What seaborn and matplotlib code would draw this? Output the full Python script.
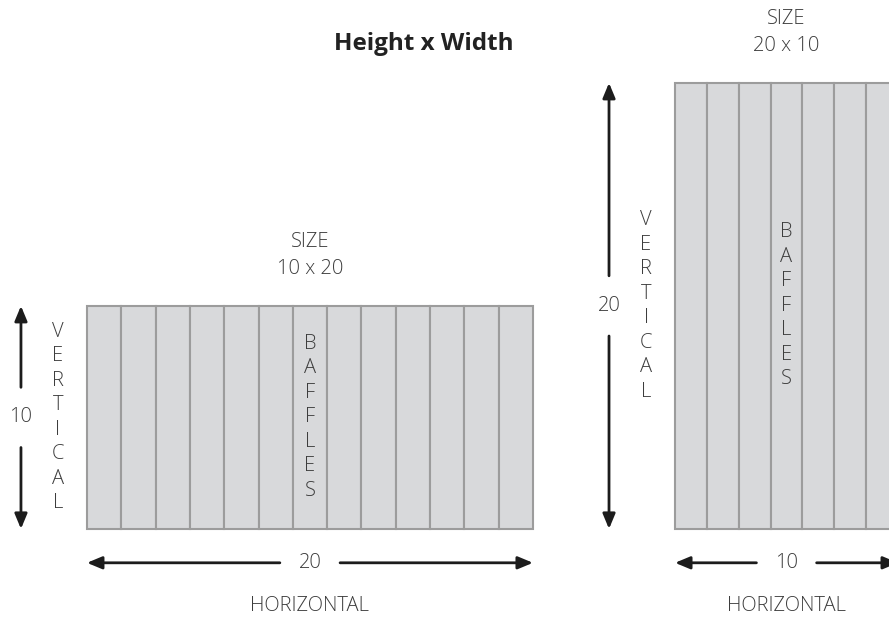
import numpy as np
import matplotlib.pyplot as plt
import seaborn as sns

sns.set_theme(style='white')
plt.rcParams['font.family'] = ['Open Sans', 'DejaVu Sans']

# 两种尺寸：高 x 宽（单位）
heights = [10, 20]
widths = [20, 10]
baffle_counts = [13, 7]
size_labels = ['10 x 20', '20 x 10']
title = 'Height x Width'

# 布局（单位坐标，1 单位约 22.3 像素）
S = 22.3
x_left = [3.9, 30.27]
y_bottom = 4.04
fill = '#d8d9db'
edge = '#9c9c9c'
txt = '#3d3d3d'
ink = '#1c1c1c'
fs = 14.5

fig = plt.figure(figsize=(8.89, 6.19), dpi=100)
ax = fig.add_axes([0, 0, 1, 1])
ax.set_xlim(0, 889 / S)
ax.set_ylim(0, 619 / S)
ax.axis('off')

arrow_kw = dict(arrowstyle='-|>,head_length=0.6,head_width=0.25', lw=2,
                color=ink, shrinkA=0, shrinkB=0, mutation_scale=15)


def arrow(x1, y1, x2, y2):
    ax.annotate('', xy=(x2, y2), xytext=(x1, y1), arrowprops=arrow_kw,
                annotation_clip=False)


def label(x, y, s):
    ax.text(x, y, s, ha='center', va='center', fontsize=fs, color=txt, fontweight='light')


for h, w, n, lab, x0 in zip(heights, widths, baffle_counts, size_labels, x_left):
    # 挡板
    bw = w / n
    ax.bar(x0 + np.arange(n) * bw, h, width=bw, bottom=y_bottom, align='edge',
           color=fill, edgecolor=edge, linewidth=1.5)
    cx = x0 + w / 2
    cy = y_bottom + h / 2
    top = y_bottom + h
    # 尺寸标签
    label(cx, top + 2.87, 'SIZE')
    label(cx, top + 1.66, lab)
    # BAFFLES 竖排
    for i, ch in enumerate('BAFFLES'):
        label(cx, cy + (3 - i) * 1.1, ch)
    # VERTICAL 竖排
    for i, ch in enumerate('VERTICAL'):
        label(x0 - 1.3, cy + (3.5 - i) * 1.1, ch)
    # 竖向箭头
    ax_x = x0 - 2.96
    arrow(ax_x, cy + 1.35, ax_x, top)
    arrow(ax_x, cy - 1.35, ax_x, y_bottom)
    label(ax_x, cy, str(h))
    # 横向箭头
    ay = y_bottom - 1.52
    arrow(cx - 1.35, ay, x0, ay)
    arrow(cx + 1.35, ay, x0 + w, ay)
    label(cx, ay, str(w))
    label(cx, y_bottom - 3.45, 'HORIZONTAL')

ax.text(424 / S, (619 - 44) / S, title, ha='center', va='center', fontsize=17.5,
        fontweight='bold', color='#222222')

fig.savefig('out.png', dpi=100)
